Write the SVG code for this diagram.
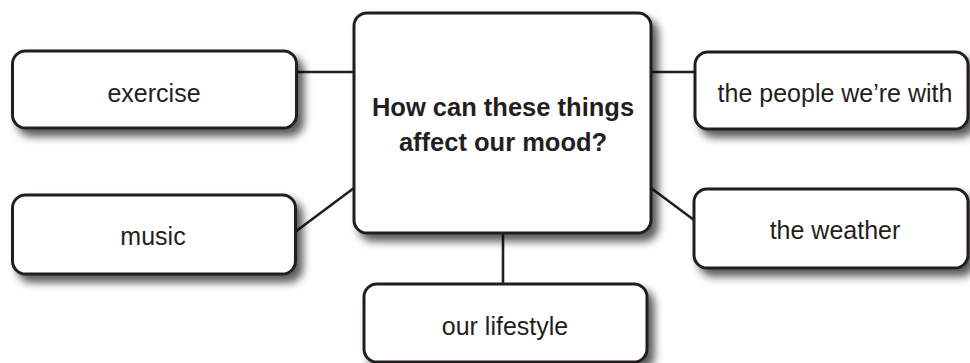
<svg xmlns="http://www.w3.org/2000/svg" width="970" height="363" viewBox="0 0 970 363">
  <style>
    .box { fill: #ffffff; stroke: #231f20; stroke-width: 3; filter: url(#shadow); }
    .link { stroke: #231f20; stroke-width: 2.6; fill: none; }
    .label { font-family: "Liberation Sans", Arial, sans-serif; font-size: 25px; fill: #231f20; text-anchor: middle; }
    .hub { font-weight: bold; font-size: 25.5px; }
  </style>
  <defs>
    <!-- soft drop shadow below and to the right of every box -->
    <filter id="shadow" x="-10%" y="-10%" width="125%" height="135%">
      <feDropShadow dx="6" dy="7" stdDeviation="4" flood-color="#000000" flood-opacity="0.65"/>
    </filter>
  </defs>
  <rect width="970" height="363" fill="#ffffff"/>

  <!-- connectors from the central question to each factor -->
  <g id="connectors">
    <line class="link" x1="297" y1="72" x2="354" y2="72"/>
    <line class="link" x1="651" y1="72" x2="695" y2="72"/>
    <line class="link" x1="295" y1="232" x2="354" y2="188"/>
    <line class="link" x1="651" y1="188" x2="694" y2="220"/>
    <line class="link" x1="503" y1="233" x2="503" y2="284"/>
  </g>

  <g id="center">
    <rect class="box" x="354" y="13" width="297" height="220" rx="13"/>
    <text class="label hub" x="503" y="116">How can these things</text>
    <text class="label hub" x="503" y="151">affect our mood?</text>
  </g>

  <g id="exercise">
    <rect class="box" x="12.5" y="51" width="284" height="77" rx="13"/>
    <text class="label" x="154" y="102">exercise</text>
  </g>

  <g id="people">
    <rect class="box" x="695" y="52" width="273" height="77" rx="13"/>
    <text class="label" x="835" y="102">the people we’re with</text>
  </g>

  <g id="music">
    <rect class="box" x="12.5" y="195" width="283" height="79" rx="13"/>
    <text class="label" x="153" y="245">music</text>
  </g>

  <g id="weather">
    <rect class="box" x="694" y="189" width="274" height="79" rx="13"/>
    <text class="label" x="835" y="239">the weather</text>
  </g>

  <g id="lifestyle">
    <rect class="box" x="364" y="284" width="283" height="78" rx="13"/>
    <text class="label" x="505" y="335">our lifestyle</text>
  </g>
</svg>
